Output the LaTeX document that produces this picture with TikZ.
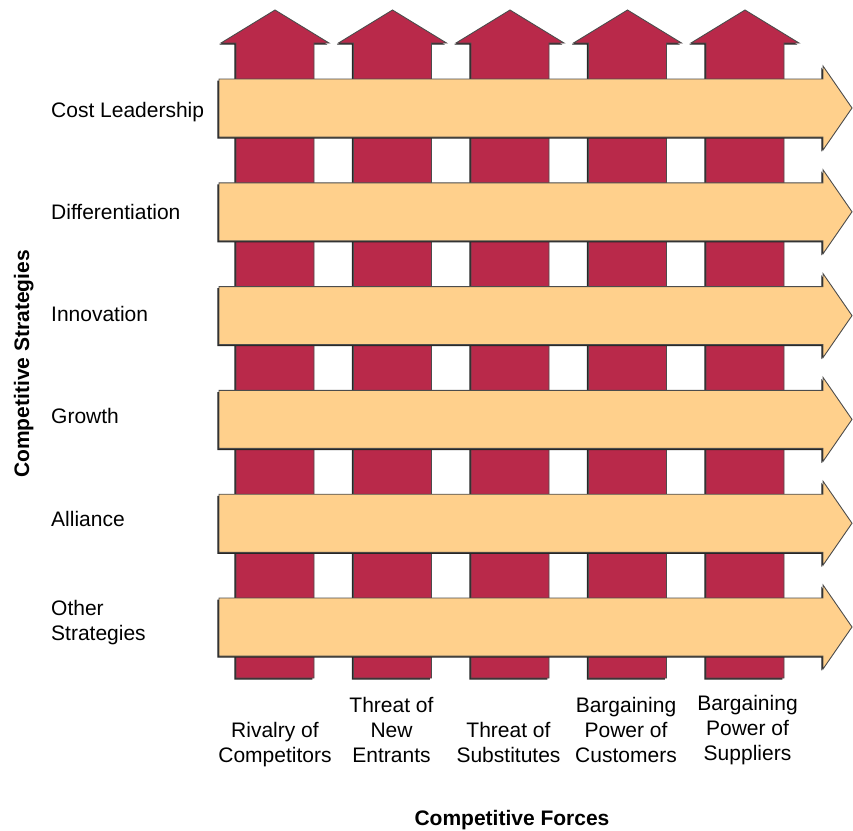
\documentclass[tikz,border=0pt]{standalone}
\usepackage{fontspec}
\setmainfont{Liberation Sans}
\usetikzlibrary{positioning,calc}
\definecolor{forcered}{RGB}{185,41,74}
\definecolor{strategytan}{RGB}{255,208,140}
\tikzset{
force/.style    = {fill=forcered, draw=black!70, line width=0.9pt},
strategy/.style = {fill=strategytan, draw=black!70, line width=0.9pt},
shade/.style    = {fill=black!85, draw=none, xshift=-1.6pt, yshift=-1.6pt},
lbl/.style      = {font=\fontsize{21}{25}\selectfont, inner sep=0pt},
heading/.style  = {lbl, font=\fontsize{21}{25}\selectfont\bfseries}
}

\begin{document}
\begin{tikzpicture}[x=1pt, y=-1pt]
  \useasboundingbox (0,0) rectangle (853,830);

  % competitive forces (upward arrows)
  \foreach \x in {275,392.5,510,627.5,745}
    \foreach \s in {shade,force}
      \draw [\s] (\x-39,678) -- (\x-39,43) -- (\x-54,43) -- (\x,10) -- (\x+54,43) -- (\x+39,43) -- (\x+39,678) -- cycle;

  % competitive strategies (right arrows)
  \foreach \y in {108,211.8,315.6,419.4,523.2,627}
    \foreach \s in {shade,strategy}
      \draw [\s] (219,\y-29) -- (823,\y-29) -- (823,\y-42) -- (852,\y) -- (823,\y+42) -- (823,\y+29) -- (219,\y+29) -- cycle;

  \node [lbl, anchor=south west]               (cost)     at (51,125.5) {Cost Leadership\strut};
  \node [lbl, anchor=south west]               (diff)     at (51,227.5) {Differentiation\strut};
  \node [lbl, anchor=south west]               (innov)    at (51,329.5) {Innovation\strut};
  \node [lbl, anchor=south west]               (growth)   at (51,431.5) {Growth\strut};
  \node [lbl, anchor=south west]               (alliance) at (51,534)   {Alliance\strut};
  \node [lbl, anchor=south west, align=left]   (other)    at (51,648.5) {Other\\Strategies\strut};

  \node [lbl, anchor=south, align=center]      (rivalry)  at (275,770.5)   {Rivalry of\\Competitors\strut};
  \node [lbl, anchor=south, align=center]      (entrants) at (391.5,770.5) {Threat of\\New\\Entrants\strut};
  \node [lbl, anchor=south, align=center]      (substit)  at (508.5,770.5) {Threat of\\Substitutes\strut};
  \node [lbl, anchor=south, align=center]      (customer) at (626,770.5)   {Bargaining\\Power of\\Customers\strut};
  \node [lbl, anchor=south, align=center]      (supplier) at (747.5,768.5) {Bargaining\\Power of\\Suppliers\strut};

  \node [heading, anchor=base, rotate=90]      (strategies) at (29,364)  {Competitive Strategies};
  \node [heading, anchor=base]                 (forces)     at (512,825) {Competitive Forces};
\end{tikzpicture}
\end{document}
